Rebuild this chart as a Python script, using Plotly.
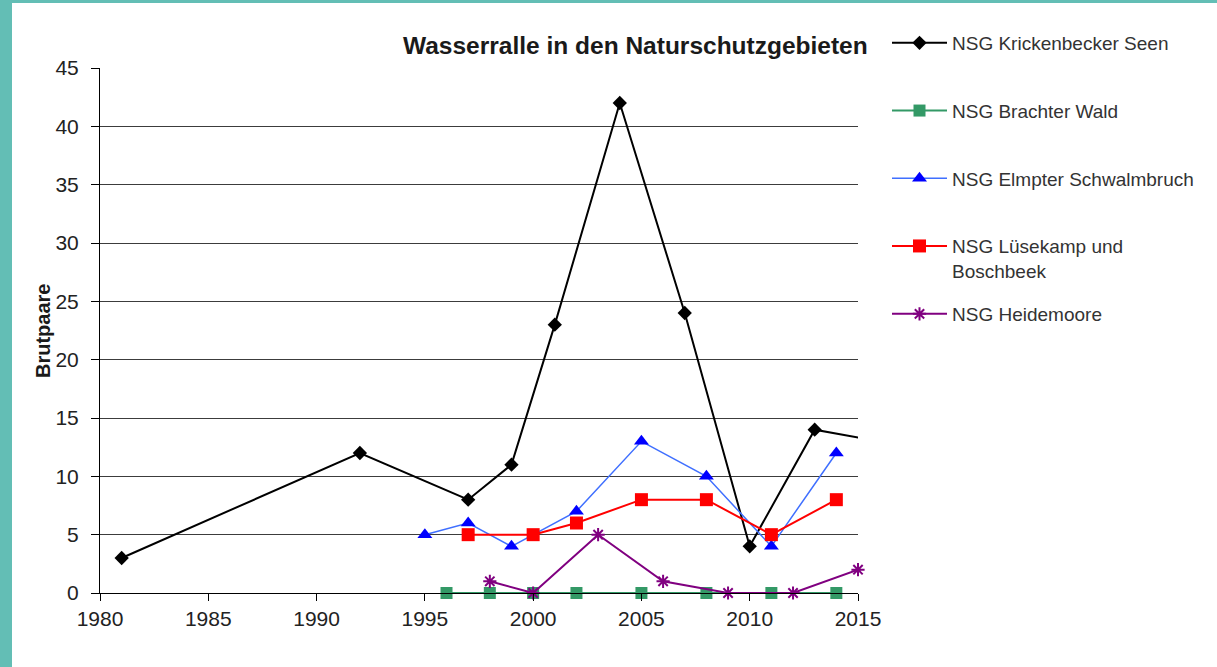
import plotly.graph_objs as go

# Wasserralle - Brutpaare je NSG
years_krick = [1981, 1992, 1997, 1999, 2001, 2004, 2007, 2010, 2013, 2016]
pairs_krick = [3, 12, 8, 11, 23, 42, 24, 4, 14, 13]

years_bracht = [1996, 1998, 2000, 2002, 2005, 2008, 2011, 2014]
pairs_bracht = [0, 0, 0, 0, 0, 0, 0, 0]

years_elmpt = [1995, 1997, 1999, 2002, 2005, 2008, 2011, 2014]
pairs_elmpt = [5, 6, 4, 7, 13, 10, 4, 12]

years_luese = [1997, 2000, 2002, 2005, 2008, 2011, 2014]
pairs_luese = [5, 5, 6, 8, 8, 5, 8]

years_heide = [1998, 2000, 2003, 2006, 2009, 2012, 2015]
pairs_heide = [1, 0, 5, 1, 0, 0, 2]

x_ticks = [1980, 1985, 1990, 1995, 2000, 2005, 2010, 2015]
y_ticks = [0, 5, 10, 15, 20, 25, 30, 35, 40, 45]

font = 'Liberation Sans, Arial, sans-serif'
teal = '#63BEB5'

trace1 = go.Scatter(x=years_krick, y=pairs_krick, mode='lines+markers',
                    name='NSG Krickenbecker Seen', legendgroup='a',
                    line=dict(color='black', width=2),
                    marker=dict(symbol='diamond', size=11, color='black'))
trace2 = go.Scatter(x=years_bracht, y=pairs_bracht, mode='lines+markers',
                    name='NSG Brachter Wald', legendgroup='b',
                    line=dict(color='#339966', width=2),
                    marker=dict(symbol='square', size=12, color='#339966'),
                    cliponaxis=False)
trace3 = go.Scatter(x=years_elmpt, y=pairs_elmpt, mode='lines+markers',
                    name='NSG Elmpter Schwalmbruch', legendgroup='c',
                    line=dict(color='#3F6FFF', width=1.5),
                    marker=dict(symbol='triangle-up', size=13, color='#0000FF'),
                    cliponaxis=False)
trace4 = go.Scatter(x=years_luese, y=pairs_luese, mode='lines+markers',
                    name='NSG Lüsekamp und<br>Boschbeek', legendgroup='d',
                    line=dict(color='#FF0000', width=2),
                    marker=dict(symbol='square', size=13, color='#FF0000'),
                    cliponaxis=False)
trace5 = go.Scatter(x=years_heide, y=pairs_heide, mode='lines+markers',
                    name='NSG Heidemoore', legend='legend2',
                    line=dict(color='#800080', width=2),
                    marker=dict(symbol='asterisk-open', size=11,
                                line=dict(color='#800080', width=2)),
                    cliponaxis=False)

data = [trace1, trace2, trace3, trace4, trace5]

# plot area: x 100..858 px, y 68..593 px
W, H = 1217, 667
L, R, T, B = 100, 359, 68, 74
pw, ph = W - L - R, H - T - B


def px(x):
    return (x - L) / pw


def py(y):
    return (H - B - y) / ph


layout = go.Layout(
    width=W, height=H,
    margin=dict(l=L, r=R, t=T, b=B),
    paper_bgcolor='white', plot_bgcolor='white',
    font=dict(family=font, size=21, color='#222222'),
    showlegend=True,
    xaxis=dict(range=[1980, 2015], tickvals=x_ticks, showgrid=False,
               zeroline=False, showline=True, linecolor='black', linewidth=1,
               ticks='outside', ticklen=7, tickcolor='black',
               tickfont=dict(size=21, color='#222222')),
    yaxis=dict(range=[0, 45], tickvals=y_ticks, showgrid=True,
               gridcolor='#3c3c3c', gridwidth=1, zeroline=False,
               showline=True, linecolor='black', linewidth=1,
               ticks='outside', ticklen=8, tickcolor='black',
               ticklabelstandoff=8,
               tickfont=dict(size=21, color='#222222')),
    legend=dict(x=px(887), y=py(24), xanchor='left', yanchor='top',
                tracegroupgap=40, itemwidth=55, valign='top',
                font=dict(size=19, color='#333333'), bgcolor='rgba(0,0,0,0)'),
    legend2=dict(x=px(887), y=py(295), xanchor='left', yanchor='top',
                 itemwidth=55, font=dict(size=19, color='#333333'),
                 bgcolor='rgba(0,0,0,0)'),
    annotations=[
        dict(text='<b>Wasserralle in den Naturschutzgebieten</b>',
             xref='paper', yref='paper', x=px(635), y=py(45),
             xanchor='center', yanchor='middle', showarrow=False,
             font=dict(size=24.5, color='#1a1a1a')),
        dict(text='<b>Brutpaare</b>', xref='paper', yref='paper',
             x=px(43), y=py(331), textangle=-90, xanchor='center',
             yanchor='middle', showarrow=False,
             font=dict(size=20, color='#1a1a1a')),
    ],
    shapes=[
        dict(type='rect', xref='paper', yref='paper', layer='below',
             x0=px(0), x1=px(12), y0=py(H), y1=py(0),
             fillcolor=teal, line=dict(width=0)),
        dict(type='rect', xref='paper', yref='paper', layer='below',
             x0=px(0), x1=px(W), y0=py(3), y1=py(0),
             fillcolor=teal, line=dict(width=0)),
    ],
)

fig = go.Figure(data=data, layout=layout)
fig.write_html("out.html", config={'displayModeBar': False},
               post_script="document.body.style.margin='0';")
